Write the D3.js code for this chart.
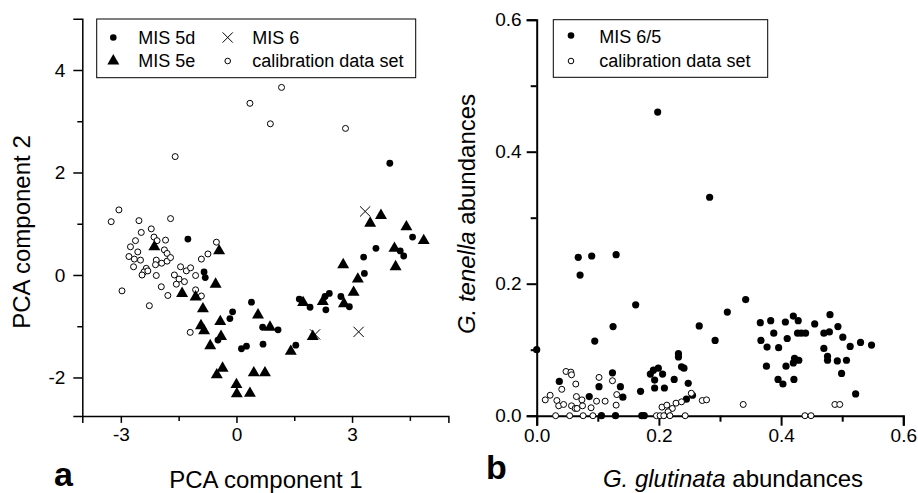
<!DOCTYPE html>
<html>
<head>
<meta charset="utf-8">
<script src="https://cdn.jsdelivr.net/npm/d3@7"></script>
<style>
  body { margin: 0; background: #fff; }
  svg { font-family: "Liberation Sans", Arial, sans-serif; }
</style>
</head>
<body>
<div id="chart"></div>
<script>
// ---- panel a : PCA scores ----
var mis5d = [
  [3.98,2.18],[-1.26,0.70],[4.57,0.74],[3.62,0.52],[4.25,0.47],[4.34,0.37],[3.30,0.35],[3.32,0.03],
  [-0.84,0.06],[-0.81,-0.05],[0.39,-0.53],[-0.10,-0.72],[-0.17,-0.85],[0.68,-1.02],[1.08,-1.07],
  [0.13,-1.44],[0.26,-1.39],[0.69,-1.35],[1.54,-1.37],[1.63,-0.47],[1.91,-0.63],[2.41,-0.36],
  [2.30,-0.42],[2.32,-0.68],[2.71,-0.42],[2.93,-0.62],[-0.48,-1.27]
];
var mis5e = [
  [-2.13,0.55],[-0.45,0.47],[-0.54,-0.18],[-1.41,-0.36],[-1.06,-0.43],[-0.87,-0.66],[-0.92,-0.99],
  [-0.84,-1.09],[-0.42,-0.91],[-0.40,-1.20],[-0.68,-1.38],[-0.36,-1.82],[-0.51,-1.95],[0.00,-2.14],
  [0.01,-2.32],[0.35,-2.31],[0.45,-1.91],[0.74,-1.91],[0.56,-0.78],[0.87,-1.02],[1.41,-1.49],
  [1.98,-1.20],[1.73,-0.54],[2.24,-0.52],[2.79,-0.56],[3.04,-0.34],[3.15,-0.08],[2.77,0.20],
  [4.13,0.16],[4.10,0.52],[3.47,1.01],[3.75,1.16],[4.41,0.94],[4.86,0.67]
];
var mis6 = [[2.04,-1.16],[3.17,-1.11],[3.34,1.24]];
var calibA = [
  [-3.25,1.04],[-3.05,1.27],[-2.53,1.06],[-1.71,1.10],[-1.59,2.31],[0.35,3.35],[1.17,3.66],[0.88,2.95],
  [2.83,2.86],[-2.21,0.90],[-2.47,0.83],[-2.14,0.74],[-2.62,0.67],[-1.84,0.68],[-2.06,0.67],[-2.75,0.55],
  [-2.56,0.45],[-1.87,0.49],[-1.80,0.42],[-2.79,0.36],[-2.65,0.31],[-2.49,0.29],[-2.67,0.16],[-2.08,0.29],
  [-1.94,0.23],[-1.80,0.27],[-1.71,0.34],[-2.10,0.20],[-2.34,0.13],[-2.40,0.06],[-2.45,0.00],[-2.30,0.08],
  [-2.08,-0.01],[-1.45,0.16],[-1.30,0.08],[-1.19,0.14],[-1.61,0.00],[-1.49,-0.08],[-1.56,-0.18],
  [-1.35,-0.13],[-1.06,-0.01],[-0.91,0.31],[-0.74,0.41],[-0.52,0.64],[-1.95,-0.23],[-1.78,-0.40],
  [-2.97,-0.31],[-2.26,-0.60],[-1.06,-0.29],[-0.91,-0.41],[-1.20,-1.12]
];
var xTicksA = [-3, 0, 3], xMinorA = [-1.5, 1.5, 4.5];
var yTicksA = [-2, 0, 2, 4], yMinorA = [-1, 1, 3];

// ---- panel b : G. glutinata vs G. tenella ----
var mis65 = [
  [0.198,0.460],[0.283,0.331],
  [0.0,0.10],[0.068,0.24],[0.071,0.213],[0.090,0.242],[0.130,0.244],[0.125,0.135],[0.095,0.113],
  [0.162,0.168],[0.266,0.136],[0.292,0.114],[0.312,0.157],[0.342,0.176],
  [0.124,0.065],[0.037,0.052],[0.102,0.044],[0.137,0.044],[0.141,0.028],[0.086,0.029],[0.170,0.037],
  [0.186,0.063],[0.191,0.069],[0.199,0.072],[0.206,0.063],[0.193,0.054],[0.193,0.042],[0.209,0.042],
  [0.225,0.055],[0.232,0.094],[0.232,0.089],[0.237,0.074],[0.241,0.072],[0.248,0.049],[0.255,0.031],
  [0.245,0.025],[0.106,0],[0.129,0],[0.172,0],[0.176,0],
  [0.366,0.141],[0.383,0.144],[0.407,0.142],[0.420,0.151],[0.428,0.144],[0.455,0.139],[0.480,0.153],
  [0.493,0.135],[0.388,0.125],[0.410,0.117],[0.427,0.125],[0.433,0.125],[0.440,0.125],[0.470,0.125],
  [0.479,0.127],[0.501,0.119],[0.367,0.114],[0.377,0.104],[0.396,0.103],[0.513,0.105],[0.530,0.111],
  [0.548,0.107],[0.470,0.102],[0.422,0.087],[0.429,0.084],[0.420,0.080],[0.476,0.090],[0.476,0.084],
  [0.492,0.083],[0.507,0.084],[0.376,0.075],[0.408,0.075],[0.499,0.064],[0.395,0.055],[0.421,0.055],
  [0.403,0.048],[0.522,0.033]
];
var calibB = [
  [0.048,0.067],[0.056,0.066],[0.057,0.062],[0.064,0.048],[0.041,0.040],[0.022,0.031],[0.014,0.024],
  [0.033,0.023],[0.036,0.015],[0.044,0.017],[0.057,0.015],[0.063,0.011],[0.065,0.029],[0.066,0.011],
  [0.075,0.015],[0.074,0.024],[0.098,0.022],[0.089,0.012],[0.102,0.058],[0.124,0.053],[0.112,0.022],
  [0.130,0.016],[0.131,0.032],[0.205,0.013],[0.213,0.016],[0.222,0.011],[0.228,0.019],[0.237,0.021],
  [0.215,0.006],[0.253,0.034],[0.271,0.023],[0.278,0.024],[0.338,0.017],[0.488,0.017],[0.496,0.017],
  [0.031,0],[0.054,0],[0.076,0],[0.092,0],[0.196,0],[0.202,0],[0.208,0],[0.218,0],[0.243,0],
  [0.439,0],[0.449,0]
];
var ticksB = [0, 0.2, 0.4, 0.6], minorB = [0.1, 0.3, 0.5];

var svg = d3.select("#chart").append("svg")
  .attr("width", 918)
  .attr("height", 493);

// plain hyphen for negative numbers, as in the original figure
function intFmt(d) { return String(d) }
function decFmt(d) { return d.toFixed(1) }

function styleAxis(g, w) {
  g.select(".domain").attr("stroke", "#000").attr("stroke-width", w);
  g.selectAll(".tick line").attr("stroke", "#000").attr("stroke-width", w);
  g.selectAll(".tick text").attr("fill", "#000").attr("font-size", 19)
    .attr("font-family", "'Liberation Sans', Arial, sans-serif");
}

// ================= panel a =================
var xA = d3.scaleLinear().domain([-4, 5.5]).range([82.3, 448.4]);
var yA = d3.scaleLinear().domain([-2.75, 5]).range([415.9, 18.75]);

var gA = svg.append("g");

var axA1 = gA.append("g").attr("transform", "translate(0,415.9)")
  .call(d3.axisBottom(xA).tickValues(xTicksA).tickSize(7).tickPadding(5).tickFormat(intFmt));
styleAxis(axA1, 1.5);
var axA1m = gA.append("g").attr("transform", "translate(0,415.9)")
  .call(d3.axisBottom(xA).tickValues(xMinorA).tickSize(5).tickFormat(""));
styleAxis(axA1m, 1.5);
axA1m.select(".domain").remove();

var axA2 = gA.append("g").attr("transform", "translate(82.3,0)")
  .call(d3.axisLeft(yA).tickValues(yTicksA).tickSize(9).tickPadding(8).tickFormat(intFmt));
styleAxis(axA2, 1.5);
var axA2m = gA.append("g").attr("transform", "translate(82.3,0)")
  .call(d3.axisLeft(yA).tickValues(yMinorA).tickSize(5).tickFormat(""));
styleAxis(axA2m, 1.5);
axA2m.select(".domain").remove();

var tri = d3.symbol().type(d3.symbolTriangle).size(62);
var cross = d3.symbol().type(d3.symbolX).size(70);

gA.selectAll(".calA").data(calibA).enter().append("circle")
  .attr("cx", function(d) { return xA(d[0]) })
  .attr("cy", function(d) { return yA(d[1]) })
  .attr("r", 3)
  .attr("fill", "#fff").attr("stroke", "#000").attr("stroke-width", 1);

gA.selectAll(".m6").data(mis6).enter().append("path")
  .attr("transform", function(d) { return "translate(" + xA(d[0]) + "," + yA(d[1]) + ")" })
  .attr("d", cross)
  .attr("fill", "none").attr("stroke", "#000").attr("stroke-width", 1);

gA.selectAll(".m5d").data(mis5d).enter().append("circle")
  .attr("cx", function(d) { return xA(d[0]) })
  .attr("cy", function(d) { return yA(d[1]) })
  .attr("r", 3.4)
  .attr("fill", "#000");

gA.selectAll(".m5e").data(mis5e).enter().append("path")
  .attr("transform", function(d) { return "translate(" + xA(d[0]) + "," + yA(d[1]) + ")" })
  .attr("d", tri)
  .attr("fill", "#000");

// legend a
var legA = gA.append("g");
legA.append("rect")
  .attr("x", 96.7).attr("y", 19).attr("width", 319).attr("height", 58.7)
  .attr("fill", "#fff").attr("stroke", "#000").attr("stroke-width", 1);
legA.append("circle").attr("cx", 113.3).attr("cy", 37.5).attr("r", 3.3).attr("fill", "#000");
legA.append("path").attr("transform", "translate(113.3,61)").attr("d", tri).attr("fill", "#000");
legA.append("path").attr("transform", "translate(227.7,37.5)").attr("d", cross)
  .attr("fill", "none").attr("stroke", "#000").attr("stroke-width", 1);
legA.append("circle").attr("cx", 227.7).attr("cy", 61).attr("r", 2.8)
  .attr("fill", "#fff").attr("stroke", "#000").attr("stroke-width", 1);
var legAText = [["MIS 5d", 138.3, 44], ["MIS 5e", 138.3, 67], ["MIS 6", 252.3, 44], ["calibration data set", 252.3, 67]];
legA.selectAll("text").data(legAText).enter().append("text")
  .attr("x", function(d) { return d[1] })
  .attr("y", function(d) { return d[2] })
  .attr("font-size", 18)
  .text(function(d) { return d[0] });

gA.append("text")
  .attr("x", 266).attr("y", 488)
  .attr("text-anchor", "middle").attr("font-size", 24)
  .text("PCA component 1");
gA.append("text")
  .attr("transform", "translate(30,232) rotate(-90)")
  .attr("text-anchor", "middle").attr("font-size", 24)
  .text("PCA component 2");
gA.append("text")
  .attr("x", 54).attr("y", 486)
  .attr("font-size", 34).attr("font-weight", "bold")
  .text("a");

// ================= panel b =================
var xB = d3.scaleLinear().domain([0, 0.6]).range([536.7, 903.3]);
var yB = d3.scaleLinear().domain([0, 0.6]).range([415.7, 19.7]);

var gB = svg.append("g");

var axB1 = gB.append("g").attr("transform", "translate(0,415.7)")
  .call(d3.axisBottom(xB).tickValues(ticksB).tickSize(10).tickPadding(3).tickFormat(decFmt));
styleAxis(axB1, 2);
var axB1m = gB.append("g").attr("transform", "translate(0,415.7)")
  .call(d3.axisBottom(xB).tickValues(minorB).tickSize(6).tickFormat(""));
styleAxis(axB1m, 2);
axB1m.select(".domain").remove();

var axB2 = gB.append("g").attr("transform", "translate(536.7,0)")
  .call(d3.axisLeft(yB).tickValues(ticksB).tickSize(10).tickPadding(5).tickFormat(decFmt));
styleAxis(axB2, 2);
var axB2m = gB.append("g").attr("transform", "translate(536.7,0)")
  .call(d3.axisLeft(yB).tickValues(minorB).tickSize(6).tickFormat(""));
styleAxis(axB2m, 2);
axB2m.select(".domain").remove();

gB.selectAll(".m65").data(mis65).enter().append("circle")
  .attr("cx", function(d) { return xB(d[0]) })
  .attr("cy", function(d) { return yB(d[1]) })
  .attr("r", 3.6)
  .attr("fill", "#000");

gB.selectAll(".calB").data(calibB).enter().append("circle")
  .attr("cx", function(d) { return xB(d[0]) })
  .attr("cy", function(d) { return yB(d[1]) })
  .attr("r", 3)
  .attr("fill", "#fff").attr("stroke", "#000").attr("stroke-width", 1);

// legend b
var legB = gB.append("g");
legB.append("rect")
  .attr("x", 553.3).attr("y", 19.7).attr("width", 214.4).attr("height", 57.6)
  .attr("fill", "#fff").attr("stroke", "#000").attr("stroke-width", 1);
legB.append("circle").attr("cx", 571).attr("cy", 35.5).attr("r", 3.3).attr("fill", "#000");
legB.append("circle").attr("cx", 571).attr("cy", 61).attr("r", 2.8)
  .attr("fill", "#fff").attr("stroke", "#000").attr("stroke-width", 1);
var legBText = [["MIS 6/5", 599.3, 42.5], ["calibration data set", 599.3, 67]];
legB.selectAll("text").data(legBText).enter().append("text")
  .attr("x", function(d) { return d[1] })
  .attr("y", function(d) { return d[2] })
  .attr("font-size", 18)
  .text(function(d) { return d[0] });

var xtB = gB.append("text")
  .attr("x", 733).attr("y", 487)
  .attr("text-anchor", "middle").attr("font-size", 24);
xtB.append("tspan").attr("font-style", "italic").text("G. glutinata");
xtB.append("tspan").text(" abundances");

var ytB = gB.append("text")
  .attr("transform", "translate(475,214) rotate(-90)")
  .attr("text-anchor", "middle").attr("font-size", 24);
ytB.append("tspan").attr("font-style", "italic").text("G. tenella");
ytB.append("tspan").text(" abundances");

gB.append("text")
  .attr("x", 486).attr("y", 479)
  .attr("font-size", 34).attr("font-weight", "bold")
  .text("b");
</script>
</body>
</html>
